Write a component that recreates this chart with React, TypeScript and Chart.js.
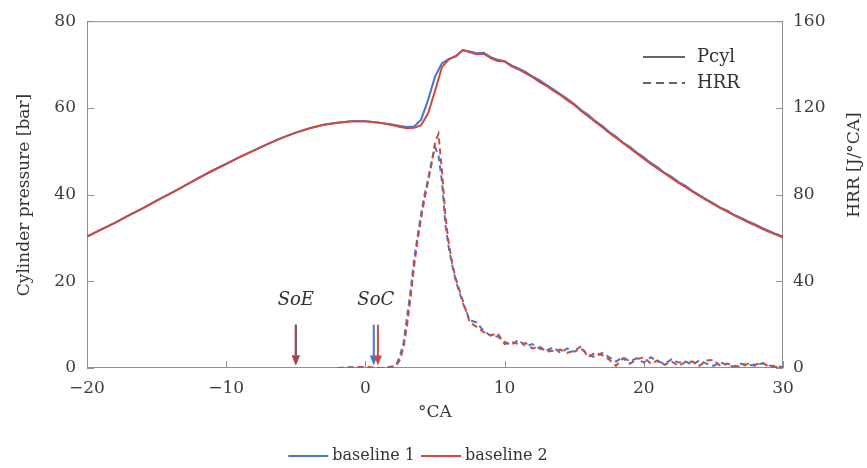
import React, { useEffect, useRef } from 'react';
import { Chart, registerables } from 'chart.js';

Chart.register(...registerables);

const BLUE = '#4a76c9';
const RED = '#cc4a3f';
const INK = '#333333';
const TICK_INK = '#3d3d3d';
const FRAME = '#8f8f8f';
const FONT = '"DejaVu Serif", "Liberation Serif", serif';

// Cylinder pressure [bar] over crank angle [°CA]
const pcylAngle = [
  -20, -19, -18, -17, -16, -15, -14, -13, -12, -11, -10, -9, -8, -7, -6, -5, -4, -3, -2, -1, 0, 1, 2,
  2.5, 3, 3.5, 4, 4.5, 5, 5.5, 6, 6.5, 7, 7.5, 8, 8.5, 9, 9.5, 10, 10.5, 11, 11.5, 12,
  12.5, 13, 13.5, 14, 14.5, 15, 15.5, 16, 16.5, 17, 17.5, 18, 18.5, 19, 19.5, 20, 20.5, 21, 21.5, 22,
  22.5, 23, 23.5, 24, 24.5, 25, 25.5, 26, 26.5, 27, 27.5, 28, 28.5, 29, 29.5, 30,
];
const pcylBaseline1 = [
  30.3, 31.9, 33.5, 35.2, 36.8, 38.6, 40.3, 42.0, 43.8, 45.5, 47.1, 48.7, 50.2, 51.7, 53.1, 54.3, 55.3, 56.1, 56.6, 56.9, 56.9, 56.6, 56.1,
  55.8, 55.6, 55.7, 57.3, 61.8, 67.2, 70.3, 71.3, 71.9, 73.3, 73.0, 72.6, 72.7, 71.7, 71.1, 70.8, 69.8, 69.1, 68.3, 67.3,
  66.4, 65.3, 64.3, 63.2, 62.1, 60.9, 59.5, 58.4, 57.0, 55.9, 54.5, 53.4, 52.0, 51.0, 49.7, 48.6, 47.3, 46.3, 45.0, 44.1,
  42.9, 42.0, 40.8, 39.9, 38.9, 38.0, 37.0, 36.3, 35.3, 34.6, 33.8, 33.1, 32.3, 31.6, 30.9, 30.3,
];
const pcylBaseline2 = [
  30.3, 31.9, 33.5, 35.2, 36.8, 38.6, 40.3, 42.0, 43.8, 45.5, 47.1, 48.7, 50.2, 51.7, 53.1, 54.3, 55.3, 56.1, 56.6, 56.9, 56.9, 56.6, 56.0,
  55.6, 55.3, 55.4, 56.0, 58.7, 63.9, 69.4, 71.2, 72.0, 73.4, 72.8, 72.4, 72.5, 71.5, 70.8, 70.7, 69.6, 68.9, 68.0, 67.1,
  66.0, 65.1, 64.0, 63.0, 61.8, 60.7, 59.3, 58.1, 56.8, 55.6, 54.3, 53.1, 51.9, 50.7, 49.5, 48.3, 47.1, 46.0, 44.9, 43.8,
  42.7, 41.7, 40.7, 39.7, 38.7, 37.8, 36.9, 36.1, 35.2, 34.4, 33.6, 32.9, 32.1, 31.4, 30.8, 30.1,
];

// Heat release rate [J/°CA] over crank angle [°CA]
const hrrAngle = [
  -2, -1, 0, 1, 1.5, 2,
  2.25, 2.5, 2.75, 3, 3.25, 3.5, 3.75, 4, 4.25, 4.5, 4.75, 5, 5.25, 5.5, 5.75, 6, 6.25, 6.5, 6.75, 7,
  7.5, 8, 8.5, 9, 9.5, 10, 10.5, 11, 11.5, 12, 12.5, 13, 13.5, 14, 14.5, 15, 15.5, 16, 16.5, 17,
  17.5, 18, 18.5, 19, 19.5, 20, 20.5, 21, 21.5, 22, 22.5, 23, 23.5, 24, 24.5, 25, 25.5, 26, 26.5, 27,
  27.5, 28, 28.5, 29, 29.5, 30,
];
const hrrBaseline1 = [
  0, 0.4, 0.2, 0, 0.2, 0.8,
  2, 6, 12, 24, 36, 50, 61, 71, 80, 87, 95, 102, 98, 86, 66, 55, 47, 40, 35, 30,
  22, 21, 17, 15, 14.5, 12, 10.6, 13, 10, 11, 9, 8, 9.5, 7, 9, 7.5, 9, 6, 5, 7,
  5, 3, 5, 3, 4.5, 2.5, 5, 3, 2, 4, 2.5, 3, 1.5, 3.5, 2, 1, 2.5, 1.5, 0.5, 2,
  1.5, 1, 2.2, 1.2, 0.8, 0.5,
];
const hrrBaseline2 = [
  0, 0.2, 0.5, 0.1, 0, 0.5,
  1.5, 4, 10, 20, 33, 47, 59, 69, 78, 86, 94, 104, 108, 91, 70, 57, 48, 41, 36, 31,
  21, 19, 16.5, 15, 16, 11, 12, 11, 11.5, 9, 10, 7.5, 8, 8.5, 7, 8, 10, 5, 7, 6,
  4, 1, 4.5, 2, 4, 5, 2, 3.5, 1.5, 3, 1, 2.8, 3, 1, 3.5, 3.7, 1, 2, 1, 0.5,
  2, 1.5, 2.5, 0.6, 0.5, 0.3,
];

// Start of energizing / start of combustion markers [°CA]
const markerNames = ['SoE', 'SoC'];
const markerLabelAngle = [-5, 0.75];
const soeAngle = [-5, -5]; // baseline 1, baseline 2
const socAngle = [0.6, 0.9]; // baseline 1, baseline 2
const arrowTopBar = 10;
const arrowTipBar = 0.6;
const markerLabelBar = 15.6;

const seriesNames = ['baseline 1', 'baseline 2'];
const seriesColors = [BLUE, RED];
const quantityNames = ['Pcyl', 'HRR'];

const toPoints = (xs: number[], ys: number[]) => xs.map((x, i) => ({ x, y: ys[i] }));

const decorations = {
  id: 'decorations',
  beforeDatasetsDraw(chart: any) {
    const { ctx, chartArea: a } = chart;
    ctx.save();
    ctx.strokeStyle = FRAME;
    ctx.lineWidth = 1;
    ctx.strokeRect(a.left + 0.5, a.top + 0.5, a.right - a.left - 1, a.bottom - a.top - 1);
    const tick = 7;
    ctx.beginPath();
    for (const t of chart.scales.x.ticks) {
      const px = Math.round(chart.scales.x.getPixelForValue(t.value)) + 0.5;
      ctx.moveTo(px, a.bottom);
      ctx.lineTo(px, a.bottom - tick);
    }
    for (const t of chart.scales.y.ticks) {
      const py = Math.round(chart.scales.y.getPixelForValue(t.value)) + 0.5;
      ctx.moveTo(a.left, py);
      ctx.lineTo(a.left + tick, py);
    }
    for (const t of chart.scales.y1.ticks) {
      const py = Math.round(chart.scales.y1.getPixelForValue(t.value)) + 0.5;
      ctx.moveTo(a.right, py);
      ctx.lineTo(a.right - tick, py);
    }
    ctx.stroke();
    ctx.restore();
  },
  afterDraw(chart: any) {
    const { ctx, chartArea: a } = chart;
    const xs = chart.scales.x;
    const ys = chart.scales.y;
    ctx.save();

    // markers
    const arrow = (angle: number, color: string) => {
      const x = xs.getPixelForValue(angle);
      const top = ys.getPixelForValue(arrowTopBar);
      const tip = ys.getPixelForValue(arrowTipBar);
      const head = 10;
      ctx.strokeStyle = color;
      ctx.fillStyle = color;
      ctx.lineWidth = 2;
      ctx.beginPath();
      ctx.moveTo(x, top);
      ctx.lineTo(x, tip - head + 1);
      ctx.stroke();
      ctx.beginPath();
      ctx.moveTo(x - 4, tip - head);
      ctx.lineTo(x + 4, tip - head);
      ctx.lineTo(x, tip);
      ctx.closePath();
      ctx.fill();
    };
    arrow(soeAngle[0], seriesColors[0]);
    arrow(soeAngle[1], '#a9463a');
    arrow(socAngle[0], seriesColors[0]);
    arrow(socAngle[1], seriesColors[1]);

    ctx.fillStyle = INK;
    ctx.font = `italic 18px ${FONT}`;
    ctx.textAlign = 'center';
    ctx.textBaseline = 'middle';
    markerNames.forEach((name, i) => {
      ctx.fillText(name, xs.getPixelForValue(markerLabelAngle[i]), ys.getPixelForValue(markerLabelBar));
    });

    // line style legend
    ctx.font = `18px ${FONT}`;
    ctx.textAlign = 'left';
    ctx.strokeStyle = INK;
    ctx.lineWidth = 1.5;
    const lx = 643;
    quantityNames.forEach((name, i) => {
      const y = 57 + i * 26;
      ctx.setLineDash(i === 0 ? [] : [8, 5]);
      ctx.beginPath();
      ctx.moveTo(lx, y);
      ctx.lineTo(lx + 42, y);
      ctx.stroke();
      ctx.fillText(name, lx + 54, y);
    });
    ctx.setLineDash([]);

    // axis titles
    ctx.font = `17px ${FONT}`;
    ctx.fillStyle = INK;
    ctx.textAlign = 'center';
    ctx.fillText('°CA', (a.left + a.right) / 2, 413);
    ctx.save();
    ctx.translate(25, 195);
    ctx.rotate(-Math.PI / 2);
    ctx.fillText('Cylinder pressure [bar]', 0, 0);
    ctx.restore();
    ctx.save();
    ctx.translate(855, 165);
    ctx.rotate(-Math.PI / 2);
    ctx.fillText('HRR [J/°CA]', 0, 0);
    ctx.restore();

    // series legend
    ctx.font = `16px ${FONT}`;
    ctx.textAlign = 'left';
    const lineLen = 40;
    const widths = seriesNames.map((n) => ctx.measureText(n).width);
    const total = widths.reduce((s, w) => s + w + lineLen + 4, 0) + 6;
    let x = 418 - total / 2;
    const ly = 456;
    seriesNames.forEach((name, i) => {
      ctx.strokeStyle = seriesColors[i];
      ctx.lineWidth = 2;
      ctx.beginPath();
      ctx.moveTo(x, ly);
      ctx.lineTo(x + lineLen, ly);
      ctx.stroke();
      ctx.fillStyle = INK;
      ctx.fillText(name, x + lineLen + 4, ly);
      x += lineLen + 4 + widths[i] + 6;
    });
    ctx.restore();
  },
};

export default function App() {
  const canvasRef = useRef<HTMLCanvasElement | null>(null);

  useEffect(() => {
    const canvas = canvasRef.current;
    if (!canvas) return;
    const minus = (v: number | string) => String(v).replace('-', '\u2212');
    const tickFont = { family: FONT, size: 17 };
    const chart = new Chart(canvas, {
      type: 'line',
      data: {
        datasets: [
          {
            label: 'Pcyl baseline 2',
            data: toPoints(pcylAngle, pcylBaseline2),
            borderColor: RED,
            yAxisID: 'y',
            order: 1,
          },
          {
            label: 'Pcyl baseline 1',
            data: toPoints(pcylAngle, pcylBaseline1),
            borderColor: BLUE,
            yAxisID: 'y',
            order: 2,
          },
          {
            label: 'HRR baseline 2',
            data: toPoints(hrrAngle, hrrBaseline2),
            borderColor: RED,
            borderDash: [6, 4],
            yAxisID: 'y1',
            order: 3,
          },
          {
            label: 'HRR baseline 1',
            data: toPoints(hrrAngle, hrrBaseline1),
            borderColor: BLUE,
            borderDash: [6, 4],
            yAxisID: 'y1',
            order: 4,
          },
        ],
      },
      options: {
        responsive: false,
        animation: false,
        events: [],
        layout: { padding: { top: 20, left: 0, right: 0, bottom: 0 } },
        elements: {
          point: { radius: 0 },
          line: { borderWidth: 2, tension: 0, fill: false },
        },
        plugins: { legend: { display: false }, tooltip: { enabled: false } },
        scales: {
          x: {
            type: 'linear',
            min: -20,
            max: 30,
            grid: { display: false, drawTicks: false },
            border: { display: false },
            ticks: { stepSize: 10, font: tickFont, color: TICK_INK, padding: 10, callback: (v: any) => minus(v), maxRotation: 0 },
            afterFit: (s: any) => { s.height = 100; },
          },
          y: {
            position: 'left',
            min: 0,
            max: 80,
            grid: { display: false, drawTicks: false },
            border: { display: false },
            ticks: { stepSize: 20, font: tickFont, color: TICK_INK, padding: 11 },
            afterFit: (s: any) => { s.width = 87; },
          },
          y1: {
            position: 'right',
            min: 0,
            max: 160,
            grid: { display: false, drawTicks: false },
            border: { display: false },
            ticks: { stepSize: 40, font: tickFont, color: TICK_INK, padding: 10 },
            afterFit: (s: any) => { s.width = 84; },
          },
        },
      } as any,
      plugins: [decorations],
    });
    return () => chart.destroy();
  }, []);

  return (
    <div style={{ position: 'fixed', left: 0, top: 0, width: 867, height: 468, background: '#fff' }}>
      <canvas ref={canvasRef} width={867} height={468} />
    </div>
  );
}
